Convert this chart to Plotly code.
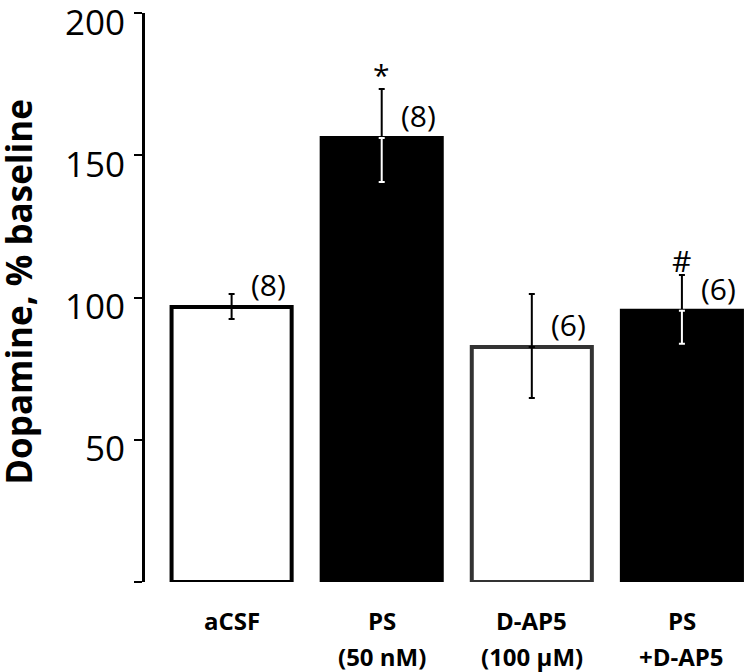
import plotly.graph_objects as go

labels_line1 = ["aCSF", "PS", "D-AP5", "PS"]
labels_line2 = ["", "(50 nM)", "(100 µM)", "+D-AP5"]
means = [96.7, 156.1, 82.6, 95.3]
err_plus = [4.5, 17.2, 18.6, 12.6]
err_minus = [4.3, 15.5, 17.9, 11.6]
n_labels = ["(8)", "(8)", "(6)", "(6)"]
sig_marks = ["", "*", "", "#"]
fills = ["white", "black", "white", "black"]
outlines = ["black", "black", "#333333", "black"]
y_ticks = [0, 50, 100, 150, 200]
y_ticktext = ["", "50", "100", "150", "200"]

xs = list(range(len(means)))
FONT = "Open Sans"

fig = go.Figure()
fig.add_trace(go.Bar(
    x=xs, y=means, width=0.8,
    marker=dict(color=fills, line=dict(color=outlines, width=4)),
    showlegend=False, hoverinfo="skip",
))

# error bars: upper part black; lower part white inside black bars
for i in xs:
    low_color = "white" if fills[i] == "black" else "black"
    fig.add_trace(go.Scatter(
        x=[i], y=[means[i]], mode="markers", marker=dict(size=1, opacity=0),
        error_y=dict(type="data", symmetric=False, array=[err_plus[i]], arrayminus=[0],
                     color="black", thickness=2, width=3),
        showlegend=False, hoverinfo="skip",
    ))
    fig.add_trace(go.Scatter(
        x=[i], y=[means[i]], mode="markers", marker=dict(size=1, opacity=0),
        error_y=dict(type="data", symmetric=False, array=[0], arrayminus=[err_minus[i]],
                     color=low_color, thickness=2, width=3),
        showlegend=False, hoverinfo="skip",
    ))

for i in xs:
    fig.add_annotation(x=i + 0.243, y=means[i] + 8, text=n_labels[i], showarrow=False,
                       xanchor="center", yanchor="middle",
                       font=dict(family=FONT, size=30, color="black"))
    if sig_marks[i]:
        fig.add_annotation(x=i, y=means[i] + err_plus[i] + 5, text=sig_marks[i], showarrow=False,
                           xanchor="center", yanchor="middle",
                           font=dict(family=FONT, size=30, color="black"))
    fig.add_annotation(x=i, y=-0.068, yref="paper", text="<b>" + labels_line1[i] + "</b>",
                       showarrow=False, xanchor="center", yanchor="middle",
                       font=dict(family=FONT, size=24, color="black"))
    if labels_line2[i]:
        fig.add_annotation(x=i, y=-0.131, yref="paper", text="<b>" + labels_line2[i] + "</b>",
                           showarrow=False, xanchor="center", yanchor="middle", borderpad=0,
                           font=dict(family=FONT, size=24, color="black"))

# y tick labels (sit slightly below their ticks, as in the reference)
for v, t in zip(y_ticks, y_ticktext):
    if t:
        fig.add_annotation(x=0, xref="paper", y=v, yref="y", text=t, showarrow=False,
                           xanchor="right", yanchor="middle", xshift=-18, yshift=-8,
                           font=dict(family=FONT, size=35, color="black"))

fig.add_annotation(x=-0.2086, y=0.51, xref="paper", yref="paper",
                   text="<b>Dopamine, % baseline</b>", textangle=-90, showarrow=False,
                   xanchor="center", yanchor="middle",
                   font=dict(family=FONT, size=35, color="black"))

fig.update_layout(
    width=749, height=672,
    margin=dict(l=145, r=0, t=13, b=90, autoexpand=False),
    plot_bgcolor="white", paper_bgcolor="white",
    xaxis=dict(range=[-0.577, 3.447], showticklabels=False,
               showline=False, showgrid=False, zeroline=False, ticks="", automargin=False),
    yaxis=dict(range=[0, 200], tickmode="array", tickvals=y_ticks, showticklabels=False,
               showline=True, linecolor="black", linewidth=3,
               ticks="outside", ticklen=8, tickwidth=2, tickcolor="black",
               showgrid=False, zeroline=False, automargin=False),
)

fig.write_html("out.html", config={"displayModeBar": False},
               post_script="document.body.style.margin='0';document.body.style.overflow='hidden';")
